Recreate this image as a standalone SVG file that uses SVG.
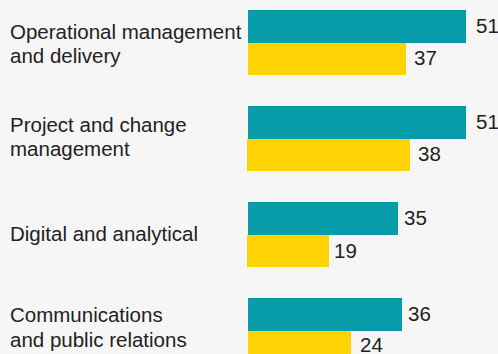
<svg xmlns="http://www.w3.org/2000/svg" width="498" height="354" viewBox="0 0 498 354">
<style>
text{font-family:"Liberation Sans",Arial,Helvetica,sans-serif;font-size:20.5px;fill:#222222}
.t{fill:#079CAA}
.y{fill:#FFD204}
</style>
<rect x="0" y="0" width="498" height="354" fill="#F6F6F6"/>
<g id="cat1">
<text x="10" y="39">Operational management</text>
<text x="10" y="63">and delivery</text>
<rect class="t" x="248" y="10" width="218" height="33"/>
<rect class="y" x="248" y="43" width="158" height="32"/>
<text x="476" y="33">51</text>
<text x="414" y="65">37</text>
</g>
<g id="cat2">
<text x="10" y="132">Project and change</text>
<text x="10" y="156">management</text>
<rect class="t" x="248" y="106" width="218" height="33"/>
<rect class="y" x="247" y="139" width="163" height="32"/>
<text x="476" y="128.5">51</text>
<text x="418" y="161">38</text>
</g>
<g id="cat3">
<text x="10" y="241">Digital and analytical</text>
<rect class="t" x="248" y="202" width="150" height="33"/>
<rect class="y" x="247" y="235" width="82" height="32"/>
<text x="404" y="225">35</text>
<text x="334" y="257.5">19</text>
</g>
<g id="cat4">
<text x="10" y="322">Communications</text>
<text x="10" y="346.5">and public relations</text>
<rect class="t" x="248" y="298" width="154" height="33"/>
<rect class="y" x="248" y="331" width="103" height="23"/>
<text x="408" y="321">36</text>
<text x="360" y="351.5">24</text>
</g>
<g id="connectors"></g>
</svg>
